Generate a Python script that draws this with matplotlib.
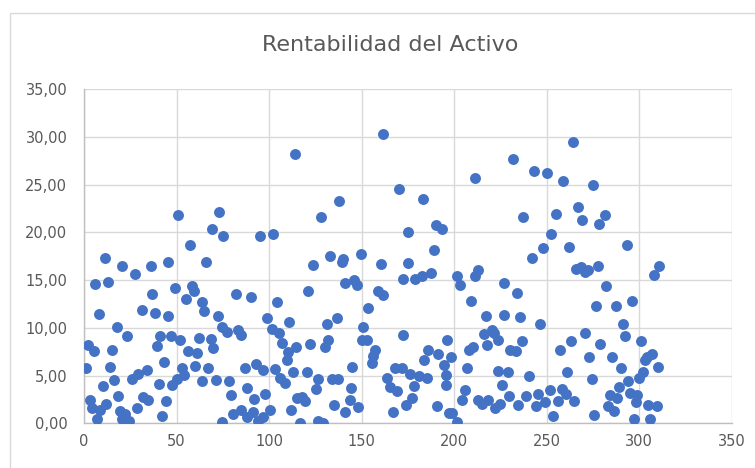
import matplotlib
matplotlib.use("Agg")
import matplotlib.pyplot as plt
from matplotlib.patches import Rectangle
from matplotlib.ticker import FuncFormatter, MultipleLocator

plt.rcParams['font.family'] = ['Liberation Sans Narrow', 'DejaVu Sans']

titulo = "Rentabilidad del Activo"

# valores (observacion, rentabilidad %)
x_a = [11.4, 20.4, 27.6, 5.9, 13.2, 8.3, 31.2, 17.7, 23.1, 2.3, 5.4, 15.3, 1.1, 14.1, 33.9, 29.4,
       25.8, 16.4, 10.5, 18.2, 32.1, 3.2, 11.9, 8.6, 4.1, 6.8, 19.5, 22.2, 24.5, 20.4, 28.5,
       51, 73, 69, 75.3, 57.3, 36.2, 45.2, 66, 49.2, 58.2, 59.6, 36.9, 55.1, 63.6, 38.4, 45.6,
       65, 72.2, 74.4, 41, 47, 51.9, 39.3, 62.2, 68.6, 69.9, 56.4, 60.9, 43.4, 53.1, 60, 67.2,
       54.2, 50.1, 47.7, 40.5, 63.9, 71.2, 34.8, 44.3, 42, 74.4,
       114, 95.1, 102.3, 82.2, 90.3, 104.1, 77.1, 83.4, 84.7, 99.1, 101.4, 105.6, 110.8, 106.8,
       110.4, 109.5, 114.6, 113.2, 87, 93, 96.6, 103.2, 105.9, 108.6, 78.6, 79.5, 88.1, 92.1,
       97.8, 115, 80.7, 84.7, 88.1, 91.5, 94.2, 96.9, 100.5, 112, 116.9,
       138, 128.1, 133, 140.2, 124, 149.5, 139.2, 120.9, 141.1, 146.1, 147.4, 153.7, 136.6,
       131.5, 151, 132.1, 130.3, 150.1, 152.8, 122.2, 155.5, 145, 120.4, 126.3, 134.3, 137.5,
       125.2, 144.3, 117.7, 119.5, 143.8, 135.3, 148.3, 141, 126.7, 129.4]
y_a = [17.3, 16.5, 15.6, 14.6, 14.8, 11.4, 11.9, 10.1, 9.1, 8.2, 7.6, 7.7, 5.8, 5.9, 5.6, 5.2,
       4.6, 4.5, 3.9, 2.9, 2.8, 2.4, 2.0, 1.4, 1.6, 0.5, 1.3, 1.0, 0.2, 0.5, 1.6,
       21.8, 22.1, 20.3, 19.6, 18.7, 16.5, 16.9, 16.9, 14.2, 14.4, 13.9, 13.5, 13.0, 12.7, 11.6, 11.2,
       11.8, 11.2, 10.1, 9.1, 9.1, 8.7, 8.1, 8.9, 8.8, 7.9, 7.6, 7.4, 6.4, 5.8, 6.0, 5.8,
       5.1, 4.6, 4.0, 4.1, 4.4, 4.5, 2.4, 2.3, 0.8, 0.1,
       28.2, 19.6, 19.8, 13.5, 13.2, 12.7, 9.6, 9.8, 9.2, 11.0, 9.9, 9.5, 10.6, 8.4,
       7.5, 6.6, 8.0, 5.4, 5.8, 6.2, 5.6, 5.7, 4.7, 4.2, 4.4, 3.0, 3.7, 2.5,
       3.1, 2.6, 1.0, 1.4, 0.7, 1.2, 0.2, 0.7, 1.4, 1.4, 0.0,
       23.3, 21.6, 17.5, 17.2, 16.6, 17.7, 16.9, 13.9, 14.7, 15.0, 14.5, 12.1, 11.0,
       10.4, 10.1, 8.7, 8.0, 8.7, 8.7, 8.3, 6.3, 5.9, 5.4, 4.6, 4.6, 4.6,
       3.6, 3.7, 2.8, 2.3, 2.4, 1.9, 1.7, 1.2, 0.2, 0.0]

x_b = [161.8, 170.3, 183.1, 190.1, 193.3, 175.3, 189.3, 160.5, 175.2, 172.3, 179, 182.5, 187.4,
       159, 161.8, 172.6, 157.3, 156.4, 186.1, 184, 191.5, 196.4, 194.6, 168.1, 171.7, 176.2,
       181.2, 185.2, 195.7, 163.9, 165.4, 169.4, 178.4, 177.5, 174.1, 195.7, 191, 166.9, 197.5,
       232.1, 211.4, 237.5, 201.4, 203.2, 211.4, 213.1, 227, 234.1, 209.2, 217.1, 227, 235.7,
       220.4, 221.8, 216.4, 223.6, 218.1, 210.5, 208.1, 198.4, 230.3, 233.4, 236.9, 206.9,
       223.9, 229.4, 226, 206, 204.5, 213.2, 215.3, 218.2, 222.2, 224.9, 229.9, 234.4, 238.9,
       199.1, 201.4,
       264.5, 243.2, 250.1, 258.7, 275.3, 255.1, 267.2, 269.3, 278.5, 252.4, 247.9, 241.9,
       262.3, 266, 268.6, 270.8, 272.6, 277.9, 246.5, 276.9, 270.8, 263.2, 257.3, 273.2, 279,
       261.3, 240.7, 274.4, 245.6, 251.9, 258.2, 260.5, 244.3, 249.2, 256.4, 265, 253.7, 275.7,
       281.6, 293.3, 311, 308.1, 282.2, 287.4, 296.4, 291.6, 292.4, 301.1, 285.2, 290.3, 304.2,
       307.2, 303.3, 310.1, 302.4, 300.2, 294.2, 289.2, 295.1, 298.7, 284.3, 287.9, 298.2,
       283.4, 286.7, 304.7, 309.6, 297.5, 305.8]
y_b = [30.3, 24.5, 23.5, 20.8, 20.3, 20.0, 18.1, 16.7, 16.8, 15.1, 15.1, 15.4, 15.7,
       13.8, 13.4, 9.2, 7.7, 7.0, 7.7, 6.6, 7.3, 8.7, 6.1, 5.8, 5.8, 5.2,
       5.0, 4.7, 5.1, 4.7, 3.8, 3.4, 3.9, 2.7, 1.9, 4.0, 1.8, 1.2, 1.1,
       27.7, 25.7, 21.6, 15.4, 14.5, 15.4, 16.0, 14.7, 13.6, 12.8, 11.2, 11.3, 11.1,
       9.8, 9.5, 9.4, 8.7, 8.2, 8.0, 7.7, 6.9, 7.7, 7.6, 8.6, 5.8,
       5.5, 5.4, 4.0, 3.5, 2.4, 2.4, 2.0, 2.4, 1.6, 2.0, 2.9, 1.9, 2.9,
       1.1, 0.1,
       29.5, 26.4, 26.2, 25.4, 24.9, 21.9, 22.6, 21.3, 20.9, 19.8, 18.4, 17.3,
       18.5, 16.2, 16.4, 15.8, 16.1, 16.5, 10.4, 12.3, 9.5, 8.6, 7.7, 6.9, 8.3,
       5.4, 4.9, 4.6, 3.1, 3.5, 3.6, 3.1, 1.8, 2.2, 2.3, 2.3, 0.8, 0.9,
       21.8, 18.7, 16.5, 15.5, 14.4, 12.3, 12.8, 10.4, 9.1, 8.6, 6.9, 5.8, 6.9,
       7.3, 6.6, 5.9, 5.4, 4.7, 4.4, 3.8, 3.2, 3.0, 3.0, 2.6, 2.2,
       1.8, 1.3, 1.9, 1.8, 0.5, 0.5]

azul = '#4472C4'
gris_txt = '#595959'
gris_rej = '#D9D9D9'

fig = plt.figure(figsize=(7.55, 4.68), dpi=100)
ax = fig.add_axes([84 / 755, 1 - 423.3 / 468, (731.5 - 84) / 755, (423.3 - 89) / 468])

ax.scatter(x_a + x_b, y_a + y_b, s=62, color=azul, linewidths=0, zorder=3)

ax.set_xlim(0, 350)
ax.set_ylim(0, 35)
ax.xaxis.set_major_locator(MultipleLocator(50))
ax.yaxis.set_major_locator(MultipleLocator(5))
ax.yaxis.set_major_formatter(FuncFormatter(lambda v, p: f"{v:.2f}".replace('.', ',')))
ax.grid(True, color=gris_rej, linewidth=1, zorder=0)
ax.set_axisbelow(True)
for lado in ['top', 'right']:
    ax.spines[lado].set_visible(False)
for lado in ['left', 'bottom']:
    ax.spines[lado].set_color('#BFBFBF')
    ax.spines[lado].set_linewidth(1)
ax.tick_params(axis='both', length=0, labelsize=10.5, colors=gris_txt)
ax.tick_params(axis='y', pad=12)
ax.tick_params(axis='x', pad=8)

fig.text(390 / 755, 1 - 45 / 468, titulo, ha='center', va='center', fontsize=16, color=gris_txt)

# borde del area del grafico
fig.patches.append(Rectangle((10 / 755, -0.1), 1.2, 1.1 - 13 / 468, transform=fig.transFigure,
                             fill=False, edgecolor=gris_rej, linewidth=1))

fig.savefig("out.png", dpi=100)
